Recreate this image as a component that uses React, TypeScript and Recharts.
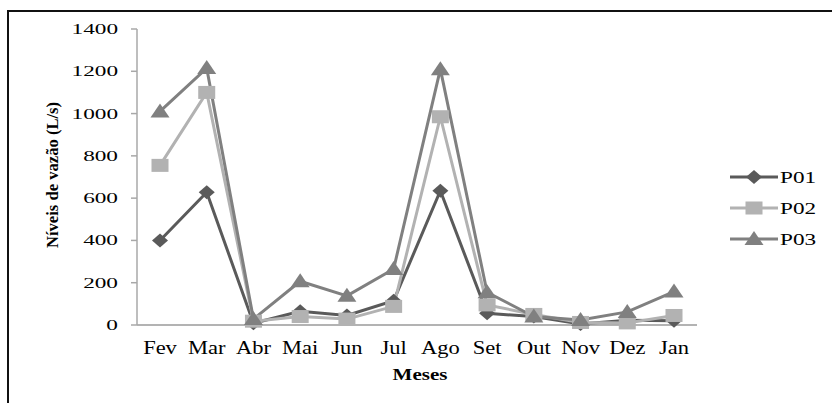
import React from 'react';
import { LineChart, Line, XAxis, YAxis, Legend } from 'recharts';

// Monthly flow levels (L/s) for the three sampling points
const months = ['Fev', 'Mar', 'Abr', 'Mai', 'Jun', 'Jul', 'Ago', 'Set', 'Out', 'Nov', 'Dez', 'Jan'];
const p01 = [400, 628, 8, 65, 45, 115, 635, 55, 40, 5, 22, 20];
const p02 = [755, 1100, 18, 40, 28, 88, 985, 95, 50, 12, 10, 45];
const p03 = [1010, 1215, 28, 207, 138, 265, 1210, 155, 40, 24, 62, 158];
const yTicks = [0, 200, 400, 600, 800, 1000, 1200, 1400];

const seriesInfo = [
    { key: 'P01', color: '#5a5a5a', shape: 'diamond' },
    { key: 'P02', color: '#b2b2b2', shape: 'square' },
    { key: 'P03', color: '#808080', shape: 'triangle' },
];

const data = months.map((m, i) => ({ month: m, P01: p01[i], P02: p02[i], P03: p03[i] }));

const FONT = '"Liberation Serif", "Times New Roman", serif';

// stretch text sideways around its anchor point
const stretch = (x: number, y: number, s: number) =>
    `translate(${x},${y}) scale(${s},1) translate(${-x},${-y})`;

const Marker = ({ shape, cx, cy, color }: any) => {
    if (shape === 'diamond') {
        return <polygon points={`${cx},${cy - 7} ${cx + 8},${cy} ${cx},${cy + 7} ${cx - 8},${cy}`} fill={color} />;
    }
    if (shape === 'square') {
        return <rect x={cx - 8.5} y={cy - 6.5} width={17} height={13} fill={color} />;
    }
    return <polygon points={`${cx},${cy - 8} ${cx + 9.5},${cy + 6} ${cx - 9.5},${cy + 6}`} fill={color} />;
};

const makeDot = (shape: string, color: string) => (props: any) => {
    const { cx, cy, index } = props;
    if (cx == null || cy == null) return <g key={index} />;
    return <Marker key={index} shape={shape} cx={cx} cy={cy} color={color} />;
};

const YTick = ({ x, y, payload }: any) => (
    <text x={x} y={y} textAnchor="end" dominantBaseline="central" fontSize={15} fontFamily={FONT}
        fill="#000" transform={stretch(x, y, 1.55)}>
        {payload.value}
    </text>
);

const XTick = ({ x, y, payload }: any) => (
    <text x={x} y={y + 29} textAnchor="middle" fontSize={18} fontFamily={FONT} fill="#000"
        transform={stretch(x, y, 1.25)}>
        {payload.value}
    </text>
);

const XTitle = ({ viewBox }: any) => {
    const cx = viewBox.x + viewBox.width / 2 + 3;
    const by = viewBox.y + 55;
    return (
        <text x={cx} y={by} textAnchor="middle" fontSize={17.5} fontWeight="bold" fontFamily={FONT}
            fill="#000" transform={stretch(cx, by, 1.2)}>
            Meses
        </text>
    );
};

const YTitle = ({ viewBox }: any) => {
    const cx = viewBox.x - 25;
    const cy = viewBox.y + viewBox.height / 2 - 2;
    return (
        <text x={cx} y={cy} textAnchor="middle" dominantBaseline="central" fontSize={17.5}
            fontWeight="bold" fontFamily={FONT} fill="#000" transform={`rotate(-90, ${cx}, ${cy}) ${stretch(cx, cy, 0.95)}`}>
            Níveis de vazão (L/s)
        </text>
    );
};

const LegendBox = () => (
    <svg width={104} height={96} style={{ display: 'block' }}>
        {seriesInfo.map((s, i) => {
            const y = 17 + i * 31;
            return (
                <g key={s.key}>
                    <line x1={4} x2={52} y1={y} y2={y} stroke={s.color} strokeWidth={3} />
                    <Marker shape={s.shape} cx={28} cy={y} color={s.color} />
                    <text x={54} y={y} dominantBaseline="central" fontSize={16} fontFamily={FONT} fill="#000"
                        transform={stretch(54, y, 1.45)}>
                        {s.key}
                    </text>
                </g>
            );
        })}
    </svg>
);

export default function App() {
    return (
        <div style={{ position: 'absolute', left: 0, top: 0, width: 832, height: 403, background: '#fff', overflow: 'hidden' }}>
            {/* frame lines of the figure box */}
            <div style={{ position: 'absolute', left: 7, top: 10, width: 900, height: 500, borderLeft: '2px solid #111', borderTop: '2px solid #111' }} />
            <div style={{ position: 'absolute', left: 0, top: 0 }}>
                <LineChart width={832} height={403} data={data} margin={{ top: 29, right: 135, bottom: 48, left: 77 }}>
                    <XAxis dataKey="month" height={30} tickSize={0} tickMargin={0} tickLine={false}
                        padding={{ left: 23, right: 23 }}
                        axisLine={{ stroke: '#9a9a9a', strokeWidth: 1.5 }} tick={<XTick />} interval={0}
                        label={<XTitle />} />
                    <YAxis width={60} domain={[0, 1400]} ticks={yTicks} interval={0} tickSize={6} tickMargin={13}
                        axisLine={{ stroke: '#a8a8a8', strokeWidth: 1.5 }} tickLine={{ stroke: '#a8a8a8', strokeWidth: 1.5 }}
                        tick={<YTick />} label={<YTitle />} />
                    <Legend layout="horizontal" align="center" verticalAlign="middle" content={<LegendBox />}
                        wrapperStyle={{ left: 726, top: 160, width: 104, height: 96, right: 'auto', bottom: 'auto' }} />
                    {seriesInfo.map((s) => (
                        <Line key={s.key} type="linear" dataKey={s.key} stroke={s.color} strokeWidth={3}
                            dot={makeDot(s.shape, s.color)} activeDot={false} isAnimationActive={false} />
                    ))}
                </LineChart>
            </div>
        </div>
    );
}
